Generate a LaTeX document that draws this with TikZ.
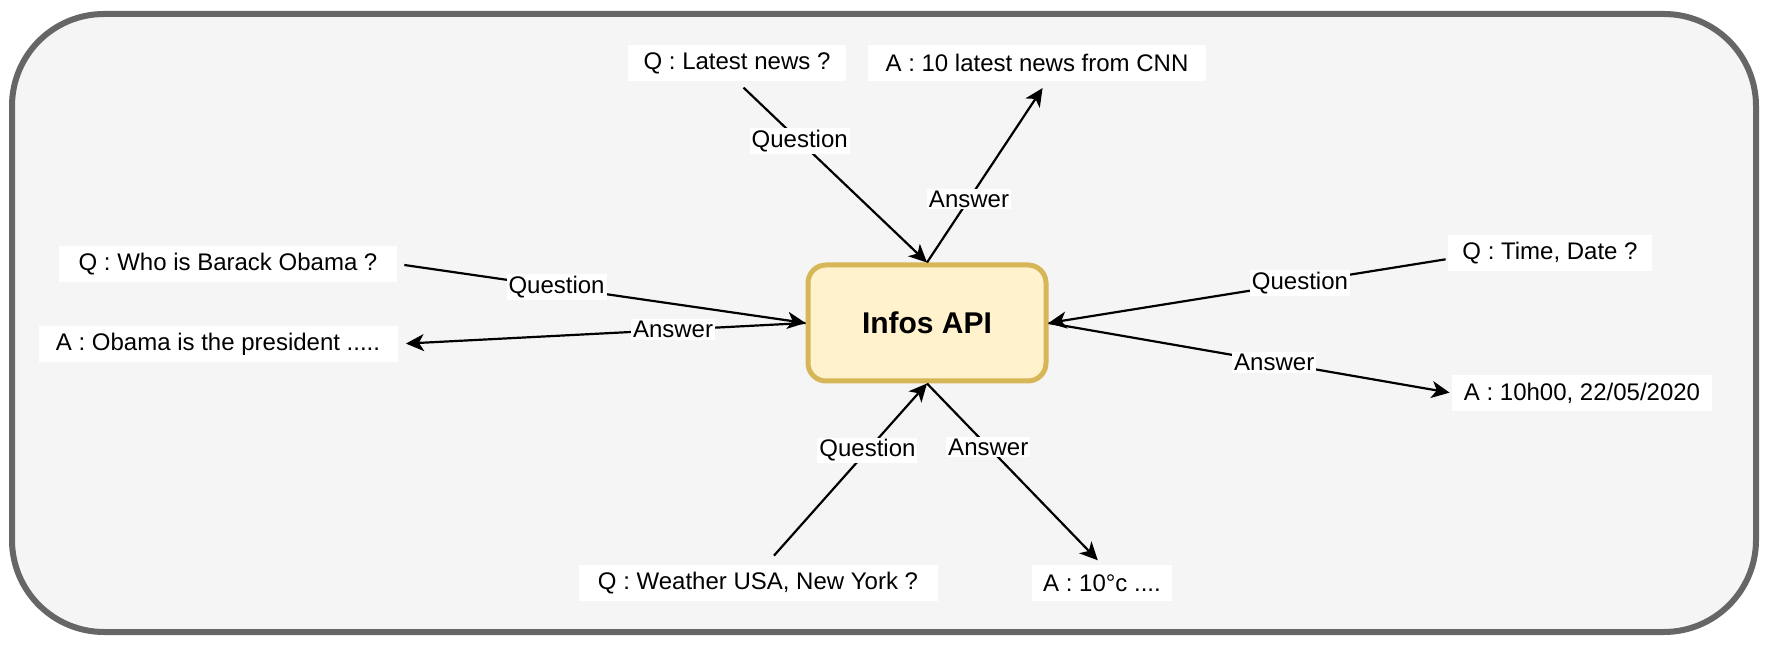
\documentclass[tikz,border=0pt]{standalone}
\usepackage{fontspec}
\setmainfont{Liberation Sans}
\usetikzlibrary{arrows.meta}
\definecolor{framegray}{HTML}{666666}
\definecolor{framefill}{HTML}{F5F5F5}
\definecolor{apifill}{HTML}{FFF2CC}
\definecolor{apidraw}{HTML}{D6B656}

\begin{document}
\begin{tikzpicture}
        [
        x=0.5pt, y=-0.5pt,
        msg/.style={rectangle, fill=white, minimum height=18pt, inner sep=0pt, font=\fontsize{12}{14}\selectfont},
        api/.style={rectangle, rounded corners=9pt, draw=apidraw, fill=apifill, line width=2.5pt, minimum width=119pt, minimum height=58pt, font=\fontsize{15}{18}\selectfont\bfseries},
        tag/.style={fill=white, inner sep=1pt, font=\fontsize{12}{14}\selectfont},
        flow/.style={-{Stealth[length=9pt, width=8.5pt, inset=2.5pt]}, line width=1.1pt}
        ]

        \useasboundingbox (0,0) rectangle (1768,646);
        \draw[framegray, fill=framefill, line width=3pt, rounded corners=46pt] (12,14) rectangle (1756,632);

        \node[api] (infos) at (927,323) {Infos API};

        \node[msg, minimum width=109pt] (qnews) at (737,63) {Q : Latest news ?};
        \node[msg, minimum width=169pt] (anews) at (1037,63) {A : 10 latest news from CNN};
        \node[msg, minimum width=169pt] (qobama) at (228,264) {Q : Who is Barack Obama ?};
        \node[msg, minimum width=179.5pt] (aobama) at (218,344) {A : Obama is the president .....};
        \node[msg, minimum width=102pt] (qtime) at (1550,253) {Q : Time, Date ?};
        \node[msg, minimum width=130pt] (atime) at (1582,393) {A : 10h00, 22/05/2020};
        \node[msg, minimum width=179.5pt] (qweather) at (758,583) {Q : Weather USA, New York ?};
        \node[msg, minimum width=70pt] (aweather) at (1102,583) {A : 10°c ....};

        \draw[flow, shorten <=4.5pt] (qnews.south) to node[tag, pos=0.33] {Question} (infos.north);
        \draw[flow, shorten >=4pt] (infos.north) to node[tag, pos=0.35] {Answer} ([xshift=5pt]anews.south);
        \draw[flow, shorten <=3.5pt] (qobama.east) to node[tag, pos=0.39] {Question} (infos.west);
        \draw[flow, shorten >=4pt] (infos.west) to node[tag, pos=0.325] {Answer} (aobama.east);
        \draw[flow, shorten <=1pt] ([yshift=-3pt]qtime.west) to node[tag, pos=0.37] {Question} (infos.east);
        \draw[flow, shorten >=1pt] (infos.east) to node[tag, pos=0.56] {Answer} (atime.west);
        \draw[flow, shorten <=6pt] ([xshift=4pt]qweather.north) to node[tag, pos=0.63] {Question} (infos.south);
        \draw[flow, shorten >=3pt] (infos.south) to node[tag, pos=0.35] {Answer} (aweather.north);

    \end{tikzpicture}
\end{document}
